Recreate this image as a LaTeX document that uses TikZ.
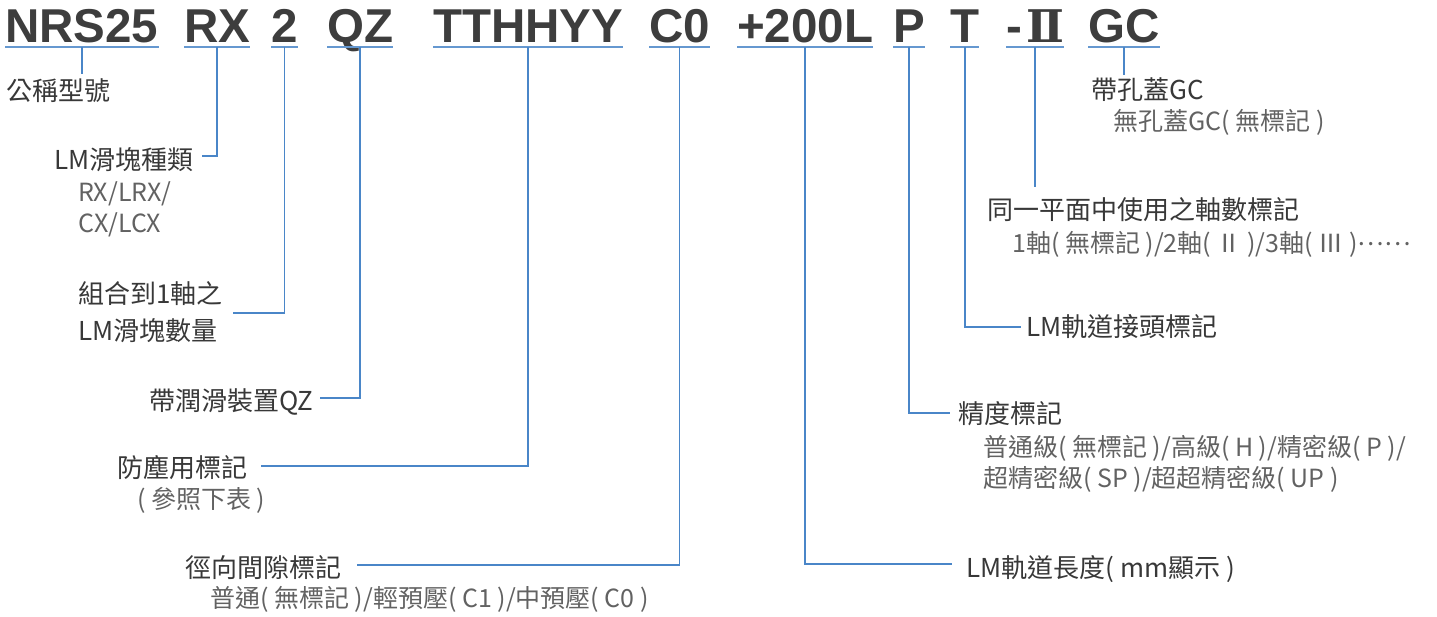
\documentclass[tikz,border=0pt]{standalone}
\usepackage{fontspec}
\setmainfont{Liberation Sans}
\newfontfamily\cjk{Noto Sans CJK TC}
\newfontfamily\romanfont{DejaVu Serif}
\definecolor{codegray}{HTML}{3D3D3D}
\definecolor{lblgray}{HTML}{383838}
\definecolor{subgray}{HTML}{626262}
\definecolor{linkblue}{HTML}{4A86C8}
\tikzset{
  codetext/.style={anchor=base west, inner sep=0pt, text depth=4pt, text=codegray,
    font=\fontsize{47.5}{50}\selectfont\bfseries},
  mainlbl/.style={anchor=base west, inner sep=0pt, text=lblgray,
    font=\cjk\fontsize{26}{30}\selectfont},
  sublbl/.style={anchor=base west, inner sep=0pt, text=subgray,
    font=\cjk\fontsize{25}{30}\selectfont},
  conn/.style={draw=linkblue, line width=1.8pt},
  uline/.style={draw=linkblue!85, line width=2pt}
}
\begin{document}
\begin{tikzpicture}[x=1pt, y=-1pt]
\useasboundingbox (0,0) rectangle (1437,617);
% code
\node[codetext] (nrs) at (5,43) {NRS25};
\node[codetext] (rx) at (184,43) {RX};
\node[codetext] (two) at (271,43) {2};
\node[codetext] (qz) at (327,43) {QZ};
\node[codetext] (tt) at (433,43) {TTHHYY};
\node[codetext] (c0) at (649,43) {C0};
\node[codetext] (len) at (737,43) {+200L};
\node[codetext] (p) at (893,43) {P};
\node[codetext] (t) at (950,43) {T};
\node[codetext] (ii) at (1006,43) {-\hspace{4pt}{\romanfont\bfseries\fontsize{45}{50}\selectfont Ⅱ}\hspace{5pt}};
\node[codetext] (gc) at (1088,43) {GC};
\foreach \n in {nrs,rx,two,qz,tt,c0,len,p,t,ii,gc}
  \draw[uline] (\n.south west) -- (\n.south east);
% labels
\node[mainlbl] (lnrs) at (6,100.5) {公稱型號};
\node[mainlbl] (lrx) at (54,170) {LM滑塊種類};
\node[sublbl] (lrxa) at (78,202) {RX/LRX/};
\node[sublbl] (lrxb) at (78,233) {CX/LCX};
\node[mainlbl] (ltwoa) at (78,303.5) {組合到1軸之};
\node[mainlbl] (ltwob) at (78,340.5) {LM滑塊數量};
\node[mainlbl] (lqz) at (149,410.5) {帶潤滑裝置QZ};
\node[mainlbl] (ltt) at (117,477.5) {防塵用標記};
\node[sublbl] (ltta) at (137,508.7) {( 參照下表 )};
\node[mainlbl] (lc0) at (185,577.5) {徑向間隙標記};
\node[sublbl] (lc0a) at (210,607.7) {普通( 無標記 )/輕預壓( C1 )/中預壓( C0 )};
\node[mainlbl] (llen) at (966,577.5) {LM軌道長度( mm顯示 )};
\node[mainlbl] (lp) at (958,423.5) {精度標記};
\node[sublbl] (lpa) at (983,456) {普通級( 無標記 )/高級( H )/精密級( P )/};
\node[sublbl] (lpb) at (983,487.7) {超精密級( SP )/超超精密級( UP )};
\node[mainlbl] (lt) at (1026,337) {LM軌道接頭標記};
\node[mainlbl] (lii) at (987,219.5) {同一平面中使用之軸數標記};
\node[sublbl] (liia) at (1012,252.7) {1軸( 無標記 )/2軸( Ⅱ )/3軸( Ⅲ )\raisebox{0.3em}{……}};
\node[mainlbl] (lgc) at (1091,99.5) {帶孔蓋GC};
\node[sublbl] (lgca) at (1113,131) {無孔蓋GC( 無標記 )};
% connector ends
\coordinate (nrsE) at (79,74);
\coordinate (rxE) at (202,156);
\coordinate (twoE) at (233,313);
\coordinate (qzE) at (320,398);
\coordinate (ttE) at (261,466);
\coordinate (c0E) at (357,565);
\coordinate (lenE) at (952,564);
\coordinate (pE) at (950,413);
\coordinate (tE) at (1021,327);
\coordinate (iiE) at (1035,187);
\coordinate (gcE) at (1126,75);
% connectors
\draw[conn] (nrs.south) -- (nrs.south |- nrsE);
\draw[conn] (rx.south) |- (rxE);
\draw[conn] (two.south) |- (twoE);
\draw[conn] (qz.south) |- (qzE);
\draw[conn] (tt.south) |- (ttE);
\draw[conn] (c0.south) |- (c0E);
\draw[conn] (len.south) |- (lenE);
\draw[conn] (p.south) |- (pE);
\draw[conn] (t.south) |- (tE);
\draw[conn] (ii.south) -- (ii.south |- iiE);
\draw[conn] (gc.south) -- (gc.south |- gcE);
\end{tikzpicture}
\end{document}
